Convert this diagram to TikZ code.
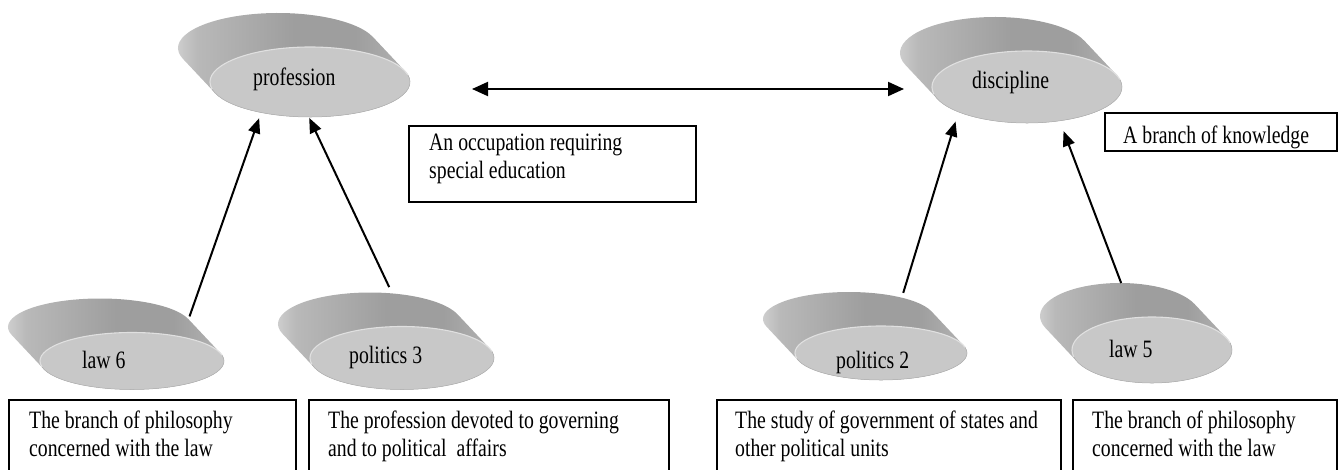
\documentclass[tikz,border=0pt]{standalone}
\usepackage{fontspec}
\setmainfont{Liberation Serif}[FakeStretch=0.79]
\usetikzlibrary{arrows.meta,shapes.geometric}

\definecolor{facegray}{RGB}{200,200,200}
\definecolor{rimgray}{RGB}{224,224,224}
\definecolor{edgegray}{RGB}{175,175,175}
\definecolor{sideA}{RGB}{218,218,218}
\definecolor{sideB}{RGB}{185,185,185}
\definecolor{sideC}{RGB}{158,158,158}
\definecolor{sideD}{RGB}{184,184,184}

% cylinder wall: light on the left, darker towards the middle
\pgfdeclarehorizontalshading{diskside}{100bp}{color(0bp)=(sideA); color(25bp)=(sideA);
  color(31bp)=(sideB); color(50bp)=(sideC); color(62bp)=(sideC); color(75bp)=(sideD); color(100bp)=(sideD)}

% tilted disk: #1 name, #2 x, #3 y (measured downwards), #4 x radius, #5 y radius
\newcommand\drawdisk[5]{%
  \pgfmathsetmacro\dskt{atan((32/34)*#5/#4)}%
  \pgfmathsetmacro\dsktb{\dskt+180}%
  \pgfmathsetmacro\dsktc{\dskt+360}%
  \shade[shading=diskside] (#2,-#3) ++(\dskt:#4 and #5) -- ++(-32,34)
    arc[start angle=\dskt, end angle=\dsktb, x radius=#4, y radius=#5] -- ++(32,-34)
    arc[start angle=\dsktb, end angle=\dsktc, x radius=#4, y radius=#5] -- cycle;
  \node[diskend] (#1-back) at (#2-32,-#3+34) [minimum width={2*#4pt}, minimum height={2*#5pt}] {};
  \node[diskface] (#1) at (#2,-#3) [minimum width={2*#4pt}, minimum height={2*#5pt}] {};
  \draw[rimgray, line width=1.1pt] (#2,-#3) ++(12:#4 and #5)
    arc[start angle=12, end angle=192, x radius=#4, y radius=#5];
  \draw[edgegray, line width=0.5pt] (#2,-#3) ++(192:#4 and #5)
    arc[start angle=192, end angle=372, x radius=#4, y radius=#5];
}

\tikzset{
  diskend/.style={ellipse, inner sep=0pt, outer sep=0pt},
  diskface/.style={ellipse, fill=facegray, inner sep=0pt, outer sep=0pt},
  lbl/.style={anchor=base west, inner sep=0pt},
  textbox/.style={draw, line width=1.6pt, anchor=north west, inner sep=0pt},
  boxtext/.style={anchor=base west, inner sep=0pt},
  arr/.style={line width=2pt, -{Triangle[length=15pt,width=12pt]}},
  dblarr/.style={line width=2pt, {Triangle[length=16pt,width=14pt]}-{Triangle[length=16pt,width=14pt]}}
}

\begin{document}
\begin{tikzpicture}[x=1pt, y=1pt, font=\fontsize{25}{28}\selectfont]
\useasboundingbox (0,0) rectangle (1338,-469);
\clip (0,0) rectangle (1338,-469);

% disks
\drawdisk{profession}{310}{82}{100}{35}
\drawdisk{discipline}{1027}{87}{95}{36}
\drawdisk{law6}{132}{361}{92}{28.5}
\drawdisk{politics3}{402}{358}{92}{31.5}
\drawdisk{politics2}{881}{353}{86}{27}
\drawdisk{law5}{1152}{350}{80}{33}

% disk labels
\node[lbl] (profession-label) at (253,-85) {profession};
\node[lbl] (discipline-label) at (972,-88) {discipline};
\node[lbl] (law6-label) at (82,-368) {law 6};
\node[lbl] (politics3-label) at (349,-363) {politics 3};
\node[lbl] (politics2-label) at (836,-368) {politics 2};
\node[lbl] (law5-label) at (1109,-357) {law 5};

% definition boxes
\node[textbox, minimum width=287pt, minimum height=76pt] (occbox) at (408,-125) {};
\node[boxtext] (occtext) at (429,-150) {\begin{tabular}[t]{@{}l@{}}An occupation requiring\\special education\end{tabular}};

\node[textbox, minimum width=232pt, minimum height=38pt] (branchbox) at (1104,-112) {};
\node[boxtext] (branchtext) at (1123,-143) {A branch of knowledge};

\node[textbox, minimum width=287pt, minimum height=90pt] (law6box) at (8,-399) {};
\node[boxtext] (law6text) at (29,-428) {\begin{tabular}[t]{@{}l@{}}The branch of philosophy\\concerned with the law\end{tabular}};

\node[textbox, minimum width=360pt, minimum height=90pt] (politics3box) at (308,-399) {};
\node[boxtext] (politics3text) at (328,-428) {\begin{tabular}[t]{@{}l@{}}The profession devoted to governing\\and to political\ \ affairs\end{tabular}};

\node[textbox, minimum width=344pt, minimum height=90pt] (politics2box) at (716,-399) {};
\node[boxtext] (politics2text) at (735,-428) {\begin{tabular}[t]{@{}l@{}}The study of government of states and\\other political units\end{tabular}};

\node[textbox, minimum width=264pt, minimum height=90pt] (law5box) at (1072,-399) {};
\node[boxtext] (law5text) at (1092,-428) {\begin{tabular}[t]{@{}l@{}}The branch of philosophy\\concerned with the law\end{tabular}};

% connectors
\draw[arr, shorten <=3pt, shorten >=6pt] (law6-back.5) -- (profession.212);
\draw[arr, shorten <=7pt, shorten >=1pt] (politics3-back.54) -- (profession.268);
\draw[arr, shorten <=5pt, shorten >=10pt] (politics2-back.22) -- (discipline.200);
\draw[arr, shorten >=11pt] (law5-back.88) -- (discipline.314);
\draw[dblarr] ([xshift=62pt,yshift=-7pt]profession.east) -- ([xshift=-28pt,yshift=-2pt]discipline.west);
\end{tikzpicture}
\end{document}
